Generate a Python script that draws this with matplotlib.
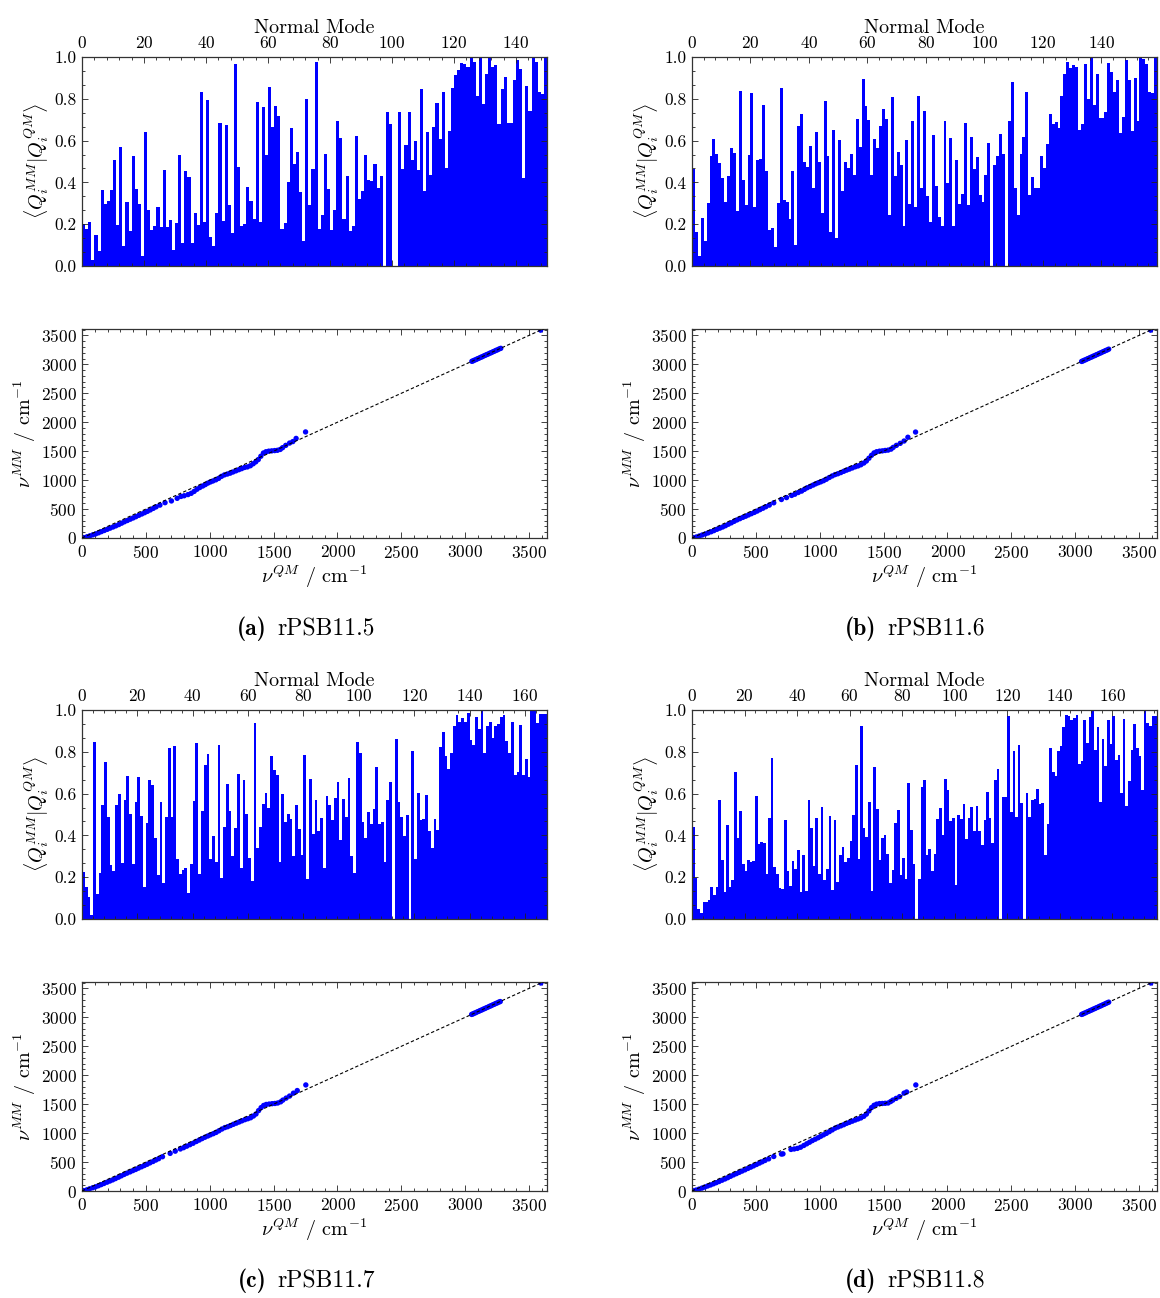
import numpy as np
import matplotlib
matplotlib.use('Agg')
import matplotlib.pyplot as plt
from matplotlib.ticker import MultipleLocator, AutoMinorLocator

plt.rcParams['font.family'] = 'serif'
plt.rcParams['font.serif'] = ['cmr10']
plt.rcParams['mathtext.fontset'] = 'cm'
plt.rcParams['axes.formatter.use_mathtext'] = True
plt.rcParams['axes.unicode_minus'] = False

# overlap <Q_i^MM|Q_i^QM> per normal mode
ov_a = [0.20, 0.176, 0.21, 0.03, 0.147, 0.07, 0.363, 0.296, 0.31, 0.363,
        0.506, 0.196, 0.569, 0.094, 0.305, 0.166, 0.526, 0.367, 0.296, 0.046,
        0.641, 0.267, 0.171, 0.19, 0.281, 0.185, 0.458, 0.185, 0.219, 0.075,
        0.204, 0.53, 0.11, 0.454, 0.425, 0.11, 0.252, 0.196, 0.832, 0.21,
        0.794, 0.137, 0.094, 0.252, 0.684, 0.214, 0.674, 0.291, 0.157, 0.966,
        0.473, 0.19, 0.20, 0.377, 0.31, 0.224, 0.784, 0.21, 0.76, 0.53,
        0.856, 0.665, 0.765, 0.717, 0.176, 0.204, 0.40, 0.66, 0.487, 0.545,
        0.353, 0.118, 0.80, 0.291, 0.463,
        0.976, 0.176, 0.243, 0.535, 0.367, 0.171, 0.267, 0.693, 0.612, 0.224,
        0.43, 0.166, 0.19, 0.621, 0.319, 0.358, 0.53, 0.41, 0.406, 0.487,
        0.372, 0.43, 0.0, 0.736, 0.679, 0.0, 0.0, 0.736, 0.463, 0.578,
        0.736, 0.506, 0.597, 0.458, 0.847, 0.358, 0.641, 0.435, 0.665, 0.78,
        0.607, 0.832, 0.468, 0.645, 0.851, 0.914, 0.938, 0.971, 0.966, 0.952,
        1.0, 0.976, 0.813, 1.0, 0.775, 0.919, 1.0, 0.952, 0.962, 0.679,
        0.847, 0.904, 0.684, 0.684, 0.89, 0.986, 0.943, 0.42, 0.861, 0.741,
        1.0, 0.976, 0.832, 0.823, 1.0]

ov_b = [0.463, 0.161, 0.046, 0.228, 0.118, 0.30, 0.526, 0.607, 0.535, 0.492,
        0.42, 0.305, 0.43, 0.564, 0.54, 0.262, 0.837, 0.41, 0.291, 0.53,
        0.827, 0.281, 0.506, 0.511, 0.77, 0.454, 0.171, 0.18, 0.089, 0.30,
        0.851, 0.315, 0.305, 0.224, 0.454, 0.099, 0.669, 0.727, 0.497, 0.473,
        0.573, 0.372, 0.641, 0.497, 0.252, 0.789, 0.526, 0.161, 0.65, 0.133,
        0.602, 0.358, 0.497, 0.468, 0.535, 0.435, 0.703, 0.569, 0.895, 0.765,
        0.698, 0.435, 0.607, 0.564, 0.669, 0.751, 0.703, 0.243, 0.808, 0.43,
        0.545, 0.482, 0.19, 0.602, 0.296, 0.693, 0.281, 0.813, 0.372, 0.741,
        0.334, 0.21, 0.626, 0.382, 0.233, 0.19, 0.693, 0.396, 0.612, 0.19,
        0.506, 0.296, 0.343, 0.684, 0.291, 0.617, 0.463, 0.521, 0.339, 0.305,
        0.435, 0.588, 0.0, 0.482, 0.526, 0.631, 0.535, 0.0, 0.693, 0.88,
        0.372, 0.243, 0.535, 0.617, 0.832, 0.339, 0.425, 0.372, 0.372, 0.526,
        0.468, 0.583, 0.727, 0.679, 0.689, 0.66, 0.813, 0.919, 0.976, 0.947,
        0.962, 0.952, 0.65, 0.679, 0.966, 0.80, 1.0, 0.77, 0.919, 0.708,
        0.708, 0.736, 0.971, 0.928, 0.832, 0.89, 0.636, 0.712, 0.986, 0.89,
        0.645, 0.90, 0.693, 1.0, 0.99, 0.966, 0.832, 0.83, 1.0]

ov_c = [0.225, 0.153, 0.105, 0.019, 0.847, 0.12, 0.22, 0.545, 0.751, 0.488,
        0.258, 0.23, 0.545, 0.598, 0.268, 0.569, 0.684, 0.502, 0.263, 0.56,
        0.679, 0.493, 0.153, 0.459, 0.665, 0.641, 0.388, 0.21, 0.56, 0.172,
        0.488, 0.818, 0.488, 0.828, 0.287, 0.215, 0.234, 0.244, 0.124, 0.263,
        0.565, 0.842, 0.215, 0.517, 0.737, 0.789, 0.287, 0.397, 0.273, 0.833,
        0.196, 0.44, 0.646, 0.517, 0.301, 0.435, 0.694, 0.244, 0.665, 0.502,
        0.292, 0.182, 0.938, 0.34, 0.44, 0.55, 0.603, 0.531, 0.78, 0.713,
        0.689, 0.273, 0.598, 0.464, 0.502, 0.478, 0.301, 0.545, 0.431, 0.306,
        0.785, 0.191, 0.67, 0.407,
        0.569, 0.421, 0.483, 0.244, 0.589, 0.545, 0.474, 0.579, 0.656, 0.378,
        0.574, 0.488, 0.675, 0.301, 0.22, 0.847, 0.794, 0.464, 0.388, 0.512,
        0.455, 0.526, 0.727, 0.455, 0.464, 0.273, 0.569, 0.656, 0.0, 0.861,
        0.56, 0.488, 0.397, 0.498, 0.0, 0.804, 0.287, 0.603, 0.474, 0.478,
        0.593, 0.421, 0.34, 0.478, 0.426, 0.823, 0.895, 0.78, 0.718, 0.794,
        0.923, 0.976, 0.943, 0.962, 0.943, 0.986, 0.856, 0.833, 0.967, 0.909,
        1.0, 0.794, 0.923, 0.943, 0.866, 0.923, 0.933, 0.967, 0.976, 0.852,
        0.794, 0.943, 0.689, 0.703, 0.928, 0.689, 0.766, 0.679, 1.0, 0.995,
        0.938, 0.981, 0.981, 0.98]

ov_d = [0.44, 0.196, 0.048, 0.029, 0.081, 0.081, 0.091, 0.153, 0.115, 0.153,
        0.569, 0.282, 0.129, 0.45, 0.153, 0.187, 0.703, 0.388, 0.517, 0.263,
        0.23, 0.282, 0.273, 0.278, 0.589, 0.359, 0.368, 0.364, 0.215, 0.483,
        0.77, 0.249, 0.215, 0.148, 0.144, 0.474, 0.23, 0.158, 0.278, 0.239,
        0.33, 0.129, 0.306, 0.134, 0.569, 0.435, 0.254, 0.483, 0.215, 0.536,
        0.187, 0.239, 0.493, 0.139, 0.474, 0.177, 0.306, 0.344, 0.273, 0.292,
        0.373, 0.498, 0.737, 0.287, 0.923, 0.435, 0.392, 0.56, 0.134, 0.727,
        0.526, 0.282, 0.388, 0.402, 0.311, 0.172, 0.234, 0.459, 0.522, 0.21,
        0.292, 0.191, 0.65, 0.426, 0.263, 0.0, 0.191, 0.632, 0.665,
        0.306, 0.335, 0.23, 0.311, 0.478, 0.531, 0.402, 0.67, 0.617, 0.469,
        0.483, 0.163, 0.498, 0.478, 0.55, 0.383, 0.483, 0.536, 0.421, 0.541,
        0.421, 0.354, 0.474, 0.608, 0.483, 0.364, 0.665, 0.718, 0.0, 0.584,
        0.584, 0.971, 0.512, 0.804, 0.488, 0.833, 0.555, 0.0, 0.603, 0.488,
        0.569, 0.574, 0.622, 0.55, 0.555, 0.306, 0.455, 0.818, 0.703, 0.684,
        0.804, 0.828, 0.919, 0.976, 0.971, 0.952, 0.962, 0.976, 0.742, 0.756,
        0.952, 0.842, 0.967, 1.0, 0.809, 0.919, 0.56, 0.861, 0.732, 0.952,
        0.837, 0.971, 0.761, 0.785, 0.603, 0.955, 0.541, 0.66, 0.809, 0.933,
        0.818, 0.78, 0.617, 1.0, 0.938, 0.923, 0.971, 0.97]

# frequencies (cm^-1): QM reference vs MM model
qm_a = [15, 40, 62, 85, 108, 130, 152, 175, 198, 220, 243, 265, 288, 310, 332,
        355, 378, 400, 422, 445, 468, 490, 512, 535, 558, 580, 610, 650, 700, 745,
        775, 800, 830, 855, 878, 900, 922, 945, 965, 985, 1005, 1025, 1048, 1070,
        1092, 1115, 1138, 1160, 1182, 1205, 1228, 1250, 1272, 1295, 1318, 1340,
        1360, 1380, 1400, 1420, 1440, 1462, 1485, 1508, 1530, 1552, 1570, 1595,
        1625, 1650, 1676, 1750,
        3052, 3062, 3072, 3085, 3096, 3108, 3120, 3132, 3144, 3156, 3168, 3180,
        3192, 3204, 3216, 3228, 3240, 3252, 3265, 3278, 3590]
mm_a = [6, 22, 38, 55, 72, 90, 110, 130, 150, 170, 190, 210, 232, 256, 280,
        302, 325, 346, 368, 392, 415, 437, 460, 485, 512, 538, 568, 610, 640, 685,
        718, 730, 750, 772, 805, 842, 872, 898, 922, 948, 968, 985, 1005, 1030,
        1065, 1090, 1105, 1120, 1140, 1160, 1180, 1198, 1218, 1228, 1248, 1282,
        1315, 1355, 1412, 1468, 1490, 1500, 1505, 1510, 1515, 1530, 1560, 1600,
        1640, 1665, 1720, 1832,
        3052, 3060, 3072, 3083, 3096, 3106, 3120, 3130, 3144, 3155, 3168, 3178,
        3192, 3202, 3216, 3226, 3240, 3250, 3265, 3276, 3590]

qm_b = [12, 35, 58, 80, 104, 126, 150, 172, 195, 218, 240, 262, 285, 308, 330,
        352, 375, 398, 420, 442, 465, 488, 510, 532, 555, 578, 605, 640, 700, 740,
        780, 805, 832, 858, 880, 902, 925, 948, 968, 988, 1008, 1030, 1052, 1075,
        1098, 1120, 1142, 1165, 1188, 1210, 1232, 1255, 1278, 1300, 1322, 1345,
        1365, 1385, 1405, 1425, 1445, 1468, 1490, 1512, 1535, 1558, 1575, 1600,
        1630, 1660, 1690, 1750,
        3050, 3060, 3070, 3082, 3094, 3105, 3118, 3130, 3142, 3155, 3166, 3178,
        3190, 3202, 3214, 3226, 3238, 3250, 3262, 3590]
mm_b = [5, 18, 35, 52, 70, 88, 108, 128, 150, 170, 190, 212, 238, 262, 288,
        312, 334, 356, 376, 398, 420, 442, 465, 490, 514, 540, 568, 608, 665, 698,
        735, 756, 786, 810, 840, 868, 890, 914, 936, 954, 970, 990, 1015, 1045,
        1072, 1095, 1110, 1130, 1152, 1172, 1190, 1210, 1230, 1245, 1265, 1295,
        1330, 1378, 1428, 1470, 1490, 1500, 1505, 1512, 1518, 1535, 1565, 1600,
        1635, 1675, 1740, 1830,
        3050, 3058, 3070, 3080, 3094, 3103, 3118, 3128, 3142, 3152, 3166, 3176,
        3190, 3200, 3214, 3224, 3238, 3248, 3262, 3590]

qm_c = [14, 38, 60, 84, 106, 128, 150, 172, 196, 218, 240, 262, 286, 308, 330,
        352, 376, 398, 420, 442, 466, 488, 510, 532, 556, 578, 600, 630, 690, 730,
        770, 795, 820, 845, 870, 895, 918, 940, 962, 985, 1005, 1028, 1050, 1072,
        1095, 1118, 1140, 1162, 1185, 1208, 1230, 1252, 1275, 1298, 1320, 1342,
        1362, 1382, 1402, 1422, 1442, 1465, 1488, 1510, 1532, 1555, 1572, 1598,
        1625, 1655, 1685, 1752,
        3050, 3060, 3070, 3082, 3094, 3106, 3118, 3130, 3142, 3154, 3166, 3178,
        3190, 3202, 3214, 3226, 3238, 3250, 3262, 3274, 3592]
mm_c = [6, 20, 38, 56, 72, 90, 110, 130, 152, 172, 192, 214, 238, 262, 286,
        308, 330, 352, 372, 395, 418, 440, 462, 486, 510, 535, 558, 592, 650, 688,
        726, 748, 774, 800, 825, 855, 880, 905, 928, 950, 970, 990, 1012, 1040,
        1070, 1095, 1110, 1130, 1152, 1172, 1192, 1212, 1232, 1248, 1265, 1295,
        1330, 1388, 1440, 1478, 1495, 1502, 1508, 1512, 1520, 1540, 1570, 1605,
        1640, 1690, 1735, 1832,
        3050, 3058, 3070, 3080, 3094, 3104, 3118, 3128, 3142, 3152, 3166, 3176,
        3190, 3200, 3214, 3224, 3238, 3248, 3262, 3272, 3592]

qm_d = [10, 32, 55, 78, 100, 122, 145, 168, 190, 212, 235, 258, 280, 302, 325,
        348, 370, 392, 415, 438, 460, 482, 505, 528, 550, 572, 600, 640, 700, 712,
        775, 800, 825, 850, 875, 898, 920, 942, 965, 988, 1008, 1030, 1052, 1075,
        1098, 1120, 1142, 1165, 1188, 1210, 1232, 1255, 1278, 1300, 1322, 1345,
        1365, 1385, 1405, 1425, 1445, 1468, 1490, 1512, 1535, 1555, 1572, 1598,
        1625, 1660, 1680, 1752,
        3050, 3060, 3070, 3082, 3094, 3106, 3118, 3130, 3142, 3154, 3166, 3178,
        3190, 3202, 3214, 3226, 3238, 3250, 3262, 3592]
mm_d = [4, 16, 32, 50, 68, 86, 104, 124, 144, 164, 186, 208, 230, 254, 278,
        300, 322, 344, 366, 390, 412, 434, 458, 482, 505, 528, 555, 596, 638, 642,
        718, 726, 736, 756, 786, 815, 842, 870, 895, 920, 945, 970, 995, 1025,
        1055, 1085, 1105, 1125, 1145, 1168, 1186, 1206, 1226, 1244, 1262, 1290,
        1328, 1383, 1440, 1480, 1500, 1510, 1512, 1515, 1520, 1545, 1570, 1600,
        1630, 1690, 1710, 1832,
        3050, 3058, 3070, 3080, 3094, 3104, 3118, 3128, 3142, 3152, 3166, 3176,
        3190, 3200, 3214, 3224, 3238, 3250, 3262, 3592]

tags = ['(a)', '(b)', '(c)', '(d)']
names = ['rPSB11.5', 'rPSB11.6', 'rPSB11.7', 'rPSB11.8']

W, H = 1160, 1298
fig = plt.figure(figsize=(W / 100, H / 100), dpi=100)


def box(x0, y0, x1, y1):
    return [x0 / W, 1 - y1 / H, (x1 - x0) / W, (y1 - y0) / H]


def style(ax):
    ax.tick_params(which='both', direction='in', top=True, right=True,
                   labelsize=12.5, width=0.6, colors='#222222', labelcolor='black',
                   pad=4)
    ax.tick_params(which='major', length=4)
    ax.tick_params(which='minor', length=2)
    for s in ax.spines.values():
        s.set_linewidth(0.9)
        s.set_color('#333333')


blue = '#0000ff'
panels = [(ov_a, qm_a, mm_a, 82, 57), (ov_b, qm_b, mm_b, 692, 57),
          (ov_c, qm_c, mm_c, 82, 710), (ov_d, qm_d, mm_d, 692, 710)]

for k, (ov, qm, mm, x0, y0) in enumerate(panels):
    n = len(ov)
    # overlap bars
    ax = fig.add_axes(box(x0, y0, x0 + 465, y0 + 209))
    ax.bar(np.arange(n), ov, width=1.0, align='edge', color=blue, linewidth=0)
    ax.set_xlim(0, n)
    ax.set_ylim(0, 1)
    ax.xaxis.set_major_locator(MultipleLocator(20))
    ax.xaxis.set_minor_locator(AutoMinorLocator(5))
    ax.yaxis.set_major_locator(MultipleLocator(0.2))
    ax.yaxis.set_minor_locator(AutoMinorLocator(3))
    ax.yaxis.set_major_formatter(plt.FormatStrFormatter('%.1f'))
    style(ax)
    ax.tick_params(labeltop=True, labelbottom=False)
    ax.xaxis.set_label_position('top')
    ax.set_xlabel('Normal Mode', fontsize=14.5, labelpad=2)
    ax.set_ylabel(r'$\langle Q_i^{MM}|Q_i^{QM}\rangle$', fontsize=14.5, labelpad=2)

    # frequency correlation
    ax2 = fig.add_axes(box(x0, y0 + 272, x0 + 465, y0 + 481))
    ax2.plot([0, 3640], [0, 3640], color='black', lw=0.8, ls=(0, (3, 2)), zorder=3)
    ax2.scatter(qm, mm, s=15, color=blue, edgecolors='none', zorder=2)
    ax2.set_xlim(0, 3640)
    ax2.set_ylim(0, 3610)
    for a in (ax2.xaxis, ax2.yaxis):
        a.set_major_locator(MultipleLocator(500))
        a.set_minor_locator(AutoMinorLocator(5))
    style(ax2)
    ax2.set_xlabel(r'$\nu^{QM}$ / cm$^{-1}$', fontsize=14.5, labelpad=2)
    ax2.set_ylabel(r'$\nu^{MM}$ / cm$^{-1}$', fontsize=14.5, labelpad=2)

    cx = x0 + 232.5
    cy = 629 if k < 2 else 1281
    fig.text((cx - 48) / W, 1 - cy / H, tags[k], fontsize=17, family='cmb10',
             ha='right', va='center')
    fig.text((cx - 37) / W, 1 - cy / H, names[k], fontsize=17,
             ha='left', va='center')

fig.savefig('out.png', dpi=100)
